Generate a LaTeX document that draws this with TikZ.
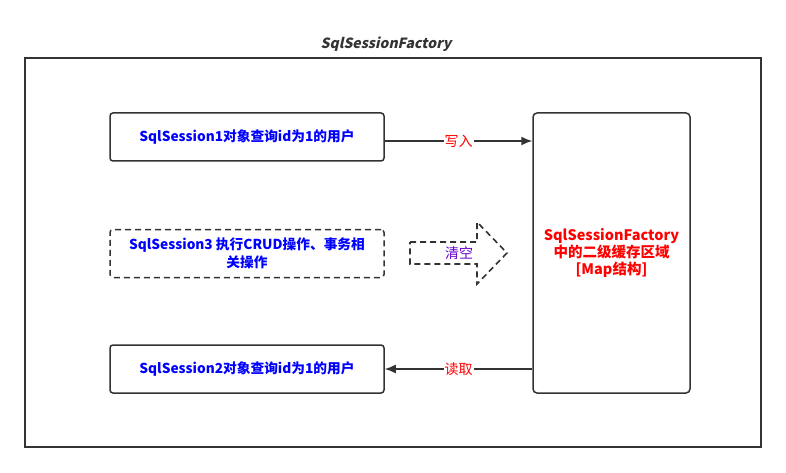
\documentclass[tikz,border=0pt]{standalone}
\usepackage{fontspec}
\setmainfont{Noto Sans CJK SC}
\newfontfamily\titlefont[FakeSlant=0.22]{Noto Sans CJK SC}
\usetikzlibrary{arrows.meta}
\definecolor{r51g51b51}{rgb}{0.200000,0.200000,0.200000}
\definecolor{r0g0b255}{rgb}{0.000000,0.000000,1.000000}
\definecolor{r255g0b0}{rgb}{1.000000,0.000000,0.000000}
\definecolor{r102g0b204}{rgb}{0.400000,0.000000,0.800000}
\tikzset{
  sessionbox/.style={draw=r51g51b51, line width=1.5pt, rounded corners=3pt,
    minimum width=274pt, minimum height=48pt, inner sep=0pt,
    text=r0g0b255, font=\bfseries\fontsize{13.7}{18}\selectfont, align=center},
  cachebox/.style={draw=r51g51b51, line width=1.5pt, rounded corners=4pt,
    minimum width=157pt, minimum height=280pt, inner sep=0pt,
    text=r255g0b0, font=\bfseries\fontsize{14.5}{17}\selectfont, align=center},
  flowline/.style={draw=r51g51b51, line width=1.5pt, -{Latex[length=11pt,width=9pt]}},
  flowlabel/.style={fill=white, inner sep=1pt, text=r255g0b0, font=\fontsize{14}{16}\selectfont}
}
\begin{document}
\begin{tikzpicture}[x=1pt,y=-1pt]
% \clip (0,0) rectangle (786,473);
\useasboundingbox (0,0) rectangle (786,473);

% Drawing frame SqlSessionFactory
\draw [r51g51b51, line width=2pt] (25,58) rectangle (761,447);
\node [text=r51g51b51, font=\titlefont\bfseries\fontsize{14}{16}\selectfont] (title) at (386,44) {SqlSessionFactory};

% Drawing session boxes
\node [sessionbox] (s1) at (247,137) {SqlSession1对象查询id为1的用户};
\node [sessionbox, dashed, dash pattern=on 6pt off 4pt] (s3) at (247,253.5) {SqlSession3 执行CRUD操作、事务相\\关操作};
\node [sessionbox] (s2) at (247,369) {SqlSession2对象查询id为1的用户};

% Drawing cache area
\node [cachebox] (cache) at (611.5,253) {SqlSessionFactory\\中的二级缓存区域\\{[}Map结构{]}};

% Drawing segment s1 cache
\draw [flowline] (s1.east |- 0,141) -- node [flowlabel] {写入} (cache.west |- 0,141);

% Drawing segment cache s2
\draw [flowline] (cache.west |- 0,369) -- node [flowlabel] {读取} (s2.east |- 0,369);

% Drawing dashed arrow shape
\draw [r51g51b51, line width=1.6pt, dashed, dash pattern=on 6pt off 4pt]
  (410,242) -- (477,242) -- (477,222) -- (507,253) -- (477,284) -- (477,264) -- (410,264) -- cycle;
\node [text=r102g0b204, font=\fontsize{14}{16}\selectfont] (clear) at (459,253) {清空};
\end{tikzpicture}
\end{document}
